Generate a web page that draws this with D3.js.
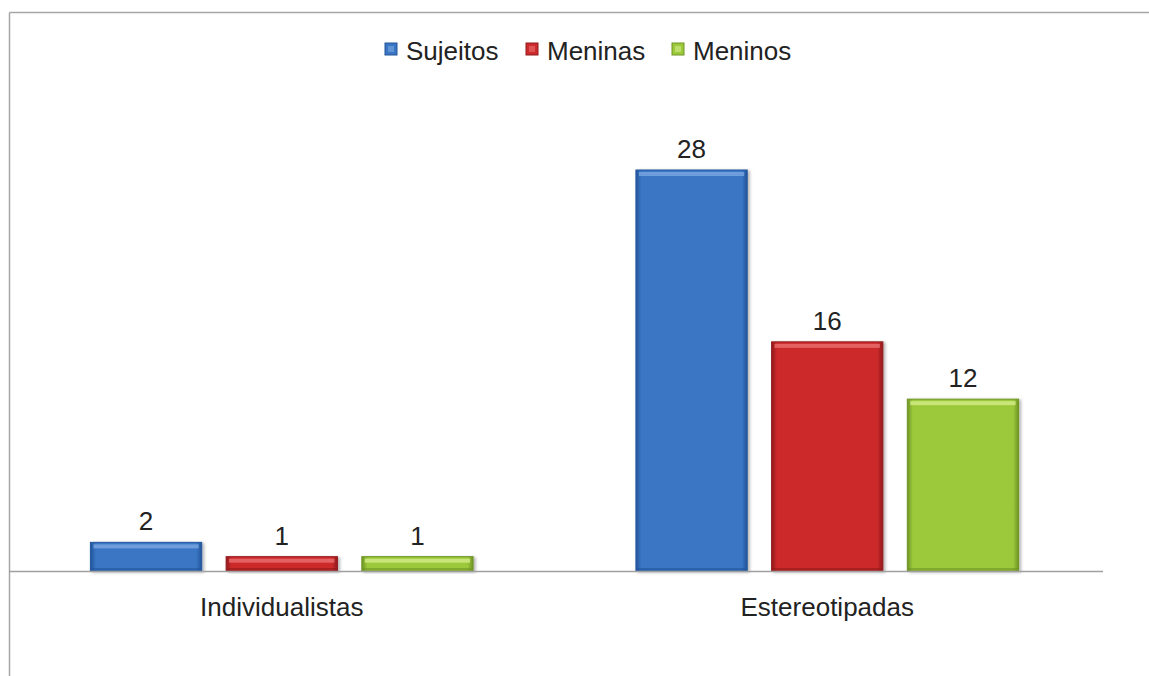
<!DOCTYPE html>
<html>
<head>
<meta charset="utf-8">
<script src="https://cdn.jsdelivr.net/npm/d3@7"></script>
<style>
  body { margin: 0; background: #fff; }
  text { font-family: "Liberation Sans", Arial, sans-serif; fill: #222; }
</style>
</head>
<body>
<svg id="chart"></svg>
<script>
var categories = ["Individualistas", "Estereotipadas"];
var series = ["Sujeitos", "Meninas", "Meninos"];
var sujeitos = [2, 28];
var meninas = [1, 16];
var meninos = [1, 12];

var width = 1149, height = 676;
var colors = {
  Sujeitos: { main: "#3a76c4", edge: "#22559c", light: "#7aa8e0" },
  Meninas:  { main: "#cc2a2c", edge: "#921a1c", light: "#ea7070" },
  Meninos:  { main: "#9cc93b", edge: "#6f9424", light: "#d3ec8a" }
};

var rows = categories.map(function(c, i) {
  return { cat: c, values: [
    { key: "Sujeitos", v: sujeitos[i] },
    { key: "Meninas", v: meninas[i] },
    { key: "Meninos", v: meninos[i] }
  ]};
});

var svg = d3.select("#chart").attr("width", width).attr("height", height);

// frame lines (top and left)
svg.append("line").attr("x1", 9.5).attr("y1", 12.5).attr("x2", width).attr("y2", 12.5)
  .attr("stroke", "#a6a6a6").attr("stroke-width", 1.5);
svg.append("line").attr("x1", 9.5).attr("y1", 12.5).attr("x2", 9.5).attr("y2", height)
  .attr("stroke", "#a6a6a6").attr("stroke-width", 1.5);

var x0 = d3.scaleBand().domain(categories).range([9, 1100]).paddingInner(0).paddingOuter(0);
var x1 = d3.scaleBand().domain(series).range([0, x0.bandwidth()]).paddingInner(0.18).paddingOuter(0.6);
var y = d3.scaleLinear().domain([0, 28]).range([571, 170]);

var defs = svg.append("defs");
defs.append("filter").attr("id", "shadow").attr("x", "-10%").attr("y", "-10%").attr("width", "130%").attr("height", "130%")
  .append("feDropShadow").attr("dx", 2).attr("dy", 1).attr("stdDeviation", 1.5).attr("flood-color", "#000").attr("flood-opacity", 0.3);

series.forEach(function(s) {
  var c = colors[s];
  var g = defs.append("linearGradient").attr("id", "grad-" + s).attr("x1", 0).attr("x2", 1).attr("y1", 0).attr("y2", 0);
  g.append("stop").attr("offset", "0%").attr("stop-color", c.edge);
  g.append("stop").attr("offset", "5%").attr("stop-color", c.main);
  g.append("stop").attr("offset", "95%").attr("stop-color", c.main);
  g.append("stop").attr("offset", "100%").attr("stop-color", c.edge);
});

var groups = svg.append("g").selectAll("g")
  .data(rows).enter().append("g")
  .attr("transform", function(d) { return "translate(" + x0(d.cat) + ",0)"; });

var bars = groups.selectAll("g.bar")
  .data(function(d) { return d.values; }).enter().append("g").attr("class", "bar");

bars.append("rect")
  .attr("x", function(d) { return x1(d.key); })
  .attr("y", function(d) { return y(d.v); })
  .attr("width", x1.bandwidth())
  .attr("height", function(d) { return y(0) - y(d.v); })
  .attr("fill", function(d) { return "url(#grad-" + d.key + ")"; })
  .attr("stroke", function(d) { return colors[d.key].edge; })
  .attr("stroke-width", 1)
  .attr("filter", "url(#shadow)");

// top bevel highlight
bars.append("rect")
  .attr("x", function(d) { return x1(d.key) + 3; })
  .attr("y", function(d) { return y(d.v) + 2; })
  .attr("width", x1.bandwidth() - 6)
  .attr("height", function(d) { return Math.min(4, (y(0) - y(d.v)) / 3); })
  .attr("fill", function(d) { return colors[d.key].light; })
  .attr("opacity", 0.8);

// bottom bevel
bars.append("rect")
  .attr("x", function(d) { return x1(d.key) + 1; })
  .attr("y", function(d) { return y(0) - 3; })
  .attr("width", x1.bandwidth() - 2)
  .attr("height", 2)
  .attr("fill", function(d) { return colors[d.key].edge; })
  .attr("opacity", 0.6);

bars.append("text")
  .attr("x", function(d) { return x1(d.key) + x1.bandwidth() / 2; })
  .attr("y", function(d) { return y(d.v) - 12; })
  .attr("text-anchor", "middle")
  .attr("font-size", 26)
  .text(function(d) { return d.v; });

// baseline
svg.append("line").attr("x1", 9).attr("x2", 1103).attr("y1", 571.5).attr("y2", 571.5)
  .attr("stroke", "#a0a0a0").attr("stroke-width", 1.5);

// category axis
var xAxis = svg.append("g").attr("transform", "translate(0,571)")
  .call(d3.axisBottom(x0).tickSize(0));
xAxis.select(".domain").remove();
xAxis.selectAll("text").attr("y", 45).attr("dy", 0).attr("font-size", 26).attr("fill", "#222")
  .style("font-family", "'Liberation Sans', Arial, sans-serif");

// legend
var legendX = [385, 526, 672];
var legend = svg.append("g").selectAll("g").data(series).enter().append("g")
  .attr("transform", function(d, i) { return "translate(" + legendX[i] + ",43)"; });
legend.append("rect").attr("width", 12).attr("height", 12)
  .attr("fill", function(d) { return colors[d].main; })
  .attr("stroke", function(d) { return colors[d].edge; }).attr("stroke-width", 1);
legend.append("rect").attr("x", 3).attr("y", 3).attr("width", 6).attr("height", 6)
  .attr("fill", function(d) { return colors[d].light; }).attr("opacity", 0.6);
legend.append("text").attr("x", 21).attr("y", 17).attr("font-size", 26)
  .text(function(d) { return d; });
</script>
</body>
</html>
